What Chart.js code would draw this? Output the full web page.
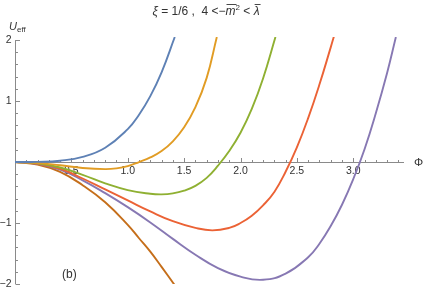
<!DOCTYPE html>
<html>
<head>
<meta charset="utf-8">
<script src="https://cdn.jsdelivr.net/npm/chart.js@4"></script>
<style>
  html, body { margin: 0; padding: 0; background: #fff; }
</style>
</head>
<body>
<canvas id="chart" width="425" height="290"></canvas>
<script>
// curve samples (Phi, U_eff)
const bluePhi   = [0, 0.2, 0.4, 0.6, 0.8, 1.0, 1.1, 1.2, 1.3, 1.417];
const blueU     = [0, 0.003, 0.022, 0.084, 0.235, 0.54, 0.775, 1.08, 1.47, 2.05];

const orangePhi = [0, 0.2, 0.4, 0.6, 0.8, 0.9, 1.0, 1.1, 1.2, 1.3, 1.4, 1.5, 1.6, 1.7, 1.79];
const orangeU   = [0, -0.015, -0.054, -0.098, -0.117, -0.104, -0.067, 0, 0.075, 0.18, 0.34, 0.57, 0.9, 1.38, 2.05];

const greenPhi  = [0, 0.2, 0.4, 0.6, 0.8, 1.0, 1.2, 1.3, 1.4, 1.5, 1.6, 1.7, 1.8, 1.9, 2.0, 2.1, 2.2, 2.31];
const greenU    = [0, -0.02, -0.09, -0.21, -0.35, -0.46, -0.52, -0.53, -0.515, -0.47, -0.39, -0.26, -0.06, 0.18, 0.48, 0.87, 1.37, 2.05];

const redPhi    = [0, 0.2, 0.4, 0.6, 0.8, 1.0, 1.2, 1.4, 1.6, 1.75, 1.9, 2.0, 2.1, 2.2, 2.3, 2.4, 2.5, 2.6, 2.7, 2.8, 2.83];
const redU      = [0, -0.025, -0.11, -0.27, -0.45, -0.63, -0.81, -0.97, -1.08, -1.12, -1.08, -1.0, -0.88, -0.71, -0.49, -0.16, 0.24, 0.72, 1.27, 1.88, 2.07];

const purplePhi = [0, 0.2, 0.4, 0.6, 0.8, 1.0, 1.2, 1.4, 1.6, 1.8, 2.0, 2.2, 2.4, 2.6, 2.7, 2.8, 2.9, 3.0, 3.1, 3.2, 3.3, 3.378];
const purpleU   = [0, -0.03, -0.125, -0.3, -0.51, -0.74, -0.99, -1.26, -1.52, -1.74, -1.88, -1.93, -1.83, -1.56, -1.34, -1.05, -0.7, -0.28, 0.21, 0.8, 1.46, 2.05];

const brownPhi  = [0, 0.2, 0.4, 0.6, 0.8, 1.0, 1.1, 1.2, 1.3, 1.417];
const brownU    = [0, -0.04, -0.16, -0.38, -0.66, -1.03, -1.25, -1.47, -1.72, -2.02];

const xTickLabels = [0.5, 1.0, 1.5, 2.0, 2.5, 3.0];
const yTickLabels = [-2, -1, 1, 2];

const colors = ['#5e81b5', '#e19c24', '#8fb032', '#eb6235', '#8778b3', '#c56e1a'];

function pts(xs, ys) {
  return xs.map((v, i) => ({ x: v, y: ys[i] }));
}

function line(xs, ys, color) {
  return {
    data: pts(xs, ys),
    borderColor: color,
    borderWidth: 1.9,
    pointRadius: 0,
    fill: false
  };
}

// draw text pieces one after another, starting at x
function drawRich(ctx, parts, x, base) {
  parts.forEach(p => {
    ctx.font = p.font;
    const w = ctx.measureText(p.t).width;
    ctx.fillText(p.t, x, base + (p.dy || 0));
    if (p.over) {
      ctx.beginPath();
      ctx.moveTo(x + 1, base - 10.5);
      ctx.lineTo(x + w + 1, base - 10.5);
      ctx.stroke();
    }
    x += w;
  });
  return x;
}

function richWidth(ctx, parts) {
  return parts.reduce((s, p) => { ctx.font = p.font; return s + ctx.measureText(p.t).width; }, 0);
}

const FF = '"Liberation Sans", Arial, sans-serif';

const mmaAxes = {
  id: 'mmaAxes',
  beforeDatasetsDraw(chart) {
    const { ctx, scales: { x, y } } = chart;
    const x0 = Math.round(x.getPixelForValue(0)) + 0.5;
    const y0 = Math.round(y.getPixelForValue(0)) + 0.5;
    const xEnd = x.getPixelForValue(x.max);
    ctx.save();
    ctx.strokeStyle = '#8a8a8a';
    ctx.lineWidth = 1;

    // axis lines
    ctx.beginPath();
    ctx.moveTo(x0, y0); ctx.lineTo(xEnd, y0);
    ctx.moveTo(x0, y.getPixelForValue(2)); ctx.lineTo(x0, y.getPixelForValue(-2));
    ctx.stroke();

    // ticks on x axis (upward)
    ctx.beginPath();
    for (let i = 1; i <= 34; i++) {
      const px = Math.round(x.getPixelForValue(i / 10)) + 0.5;
      const len = i % 5 === 0 ? 4.5 : 2.5;
      ctx.moveTo(px, y0); ctx.lineTo(px, y0 - len);
    }
    // ticks on y axis (to the right)
    for (let i = -10; i <= 10; i++) {
      if (i === 0) continue;
      const py = Math.round(y.getPixelForValue(i / 5)) + 0.5;
      const len = i % 5 === 0 ? 4.5 : 2.5;
      ctx.moveTo(x0, py); ctx.lineTo(x0 + len, py);
    }
    ctx.stroke();

    // tick labels
    ctx.fillStyle = '#333';
    ctx.font = '10.5px ' + FF;
    ctx.textAlign = 'center';
    ctx.textBaseline = 'middle';
    xTickLabels.forEach(v => {
      ctx.fillText(v.toFixed(1), x.getPixelForValue(v), y0 + 9);
    });
    ctx.textAlign = 'right';
    yTickLabels.forEach(v => {
      const s = v < 0 ? '\u2212' + Math.abs(v) : String(v);
      ctx.fillText(s, x0 - 4, y.getPixelForValue(v));
    });

    // axis names
    ctx.textAlign = 'left';
    ctx.textBaseline = 'alphabetic';
    ctx.font = 'italic 11px ' + FF;
    ctx.fillText('U', 9, 30);
    const uw = ctx.measureText('U').width;
    ctx.font = '8px ' + FF;
    ctx.fillText('eff', 9 + uw, 32);

    ctx.font = '11.5px ' + FF;
    ctx.textBaseline = 'middle';
    ctx.fillText('\u03A6', 414, y0);

    // panel tag
    ctx.font = '12px ' + FF;
    ctx.textBaseline = 'alphabetic';
    ctx.fillText('(b)', 62, 278);

    // title
    ctx.strokeStyle = '#333';
    ctx.lineWidth = 0.9;
    const parts = [
      { t: '\u03BE', font: 'italic 12px ' + FF },
      { t: ' = 1/6 ,  4 <\u2212', font: '12px ' + FF },
      { t: 'm', font: 'italic 12px ' + FF, over: true },
      { t: '2', font: '8px ' + FF, dy: -5 },
      { t: ' < ', font: '12px ' + FF },
      { t: '\u03BB', font: 'italic 12px ' + FF, over: true }
    ];
    const tw = richWidth(ctx, parts);
    drawRich(ctx, parts, 206 - tw / 2, 15);
    ctx.restore();
  }
};

new Chart(document.getElementById('chart'), {
  type: 'line',
  data: {
    datasets: [
      line(bluePhi, blueU, colors[0]),
      line(orangePhi, orangeU, colors[1]),
      line(greenPhi, greenU, colors[2]),
      line(redPhi, redU, colors[3]),
      line(purplePhi, purpleU, colors[4]),
      line(brownPhi, brownU, colors[5])
    ]
  },
  options: {
    responsive: false,
    devicePixelRatio: 1,
    animation: false,
    elements: { line: { tension: 0.45, capBezierPoints: false } },
    layout: { padding: { left: 15, right: 21, top: 37, bottom: 6 } },
    plugins: { legend: { display: false }, tooltip: { enabled: false } },
    scales: {
      x: { type: 'linear', min: 0, max: 3.45, display: false },
      y: { type: 'linear', min: -2, max: 2.05, display: false }
    }
  },
  plugins: [mmaAxes]
});
</script>
</body>
</html>
